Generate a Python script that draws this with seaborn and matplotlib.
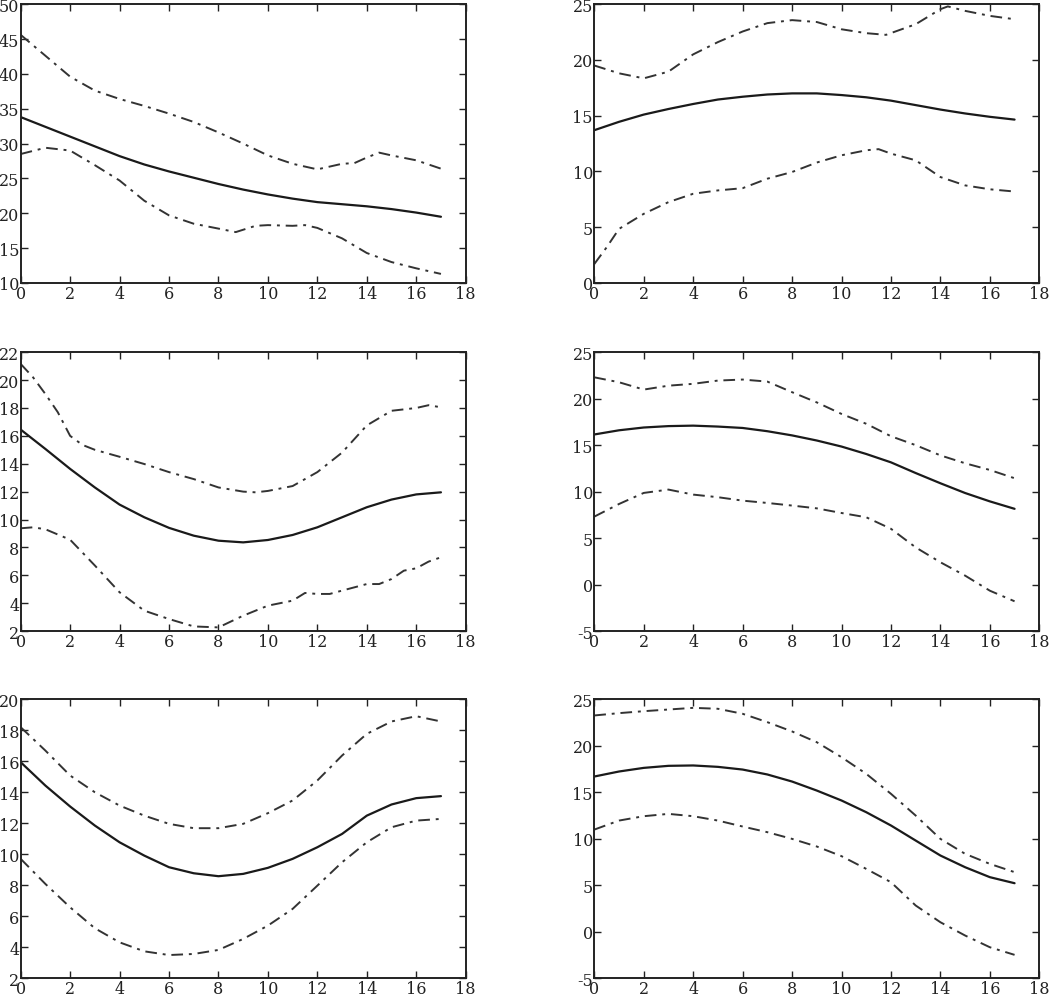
import numpy as np
import pandas as pd
import matplotlib
matplotlib.use("Agg")
import matplotlib.pyplot as plt
import seaborn as sns

# ---------------- data ----------------
X = list(range(18))

# panel 1 (top-left)
p1_mean = [33.8, 32.4, 31.0, 29.6, 28.2, 27.0, 26.0, 25.1, 24.2, 23.4, 22.7, 22.1, 21.6, 21.3, 21.0, 20.6, 20.1, 19.5]
p1_up_x = [0, 1, 2, 3, 4, 5, 6, 7, 8, 9, 10, 11, 12, 13, 13.5, 14, 14.5, 15, 16, 17]
p1_up = [45.6, 42.6, 39.6, 37.6, 36.4, 35.4, 34.3, 33.1, 31.6, 30.0, 28.3, 27.1, 26.3, 27.1, 27.2, 28.0, 28.7, 28.3, 27.6, 26.4]
p1_lo_x = [0, 1, 2, 3, 4, 5, 6, 7, 8, 8.7, 9.5, 10, 11, 11.5, 12, 13, 14, 15, 16, 17]
p1_lo = [28.5, 29.4, 29.0, 26.9, 24.7, 21.8, 19.7, 18.5, 17.8, 17.3, 18.2, 18.3, 18.2, 18.3, 17.9, 16.4, 14.3, 13.0, 12.1, 11.3]

# panel 2 (top-right)
p2_mean = [13.7, 14.45, 15.1, 15.6, 16.05, 16.45, 16.7, 16.9, 17.0, 17.0, 16.85, 16.65, 16.35, 15.95, 15.55, 15.2, 14.9, 14.65]
p2_up_x = [0, 1, 2, 3, 4, 5, 6, 7, 8, 9, 10, 11, 11.8, 13, 14, 14.3, 15, 16, 17]
p2_up = [19.5, 18.8, 18.35, 18.95, 20.5, 21.6, 22.55, 23.3, 23.57, 23.4, 22.75, 22.4, 22.25, 23.2, 24.55, 24.8, 24.4, 23.95, 23.65]
p2_lo_x = [0, 0.5, 1, 2, 3, 4, 5, 6, 7, 8, 9, 10, 11, 11.5, 12, 13, 14, 15, 16, 17]
p2_lo = [1.7, 3.2, 4.85, 6.2, 7.25, 8.0, 8.3, 8.5, 9.35, 9.95, 10.8, 11.45, 11.9, 12.0, 11.6, 11.0, 9.5, 8.75, 8.4, 8.2]

# panel 3 (middle-left)
p3_mean = [16.45, 15.06, 13.63, 12.3, 11.07, 10.16, 9.4, 8.84, 8.48, 8.36, 8.53, 8.89, 9.44, 10.16, 10.88, 11.43, 11.8, 11.95]
p3_up_x = [0, 0.5, 1, 1.5, 2, 2.5, 3, 4, 5, 6, 7, 8, 9, 9.5, 10, 11, 12, 13, 14, 15, 15.5, 16, 16.5, 17]
p3_up = [21.16, 20.2, 19.0, 17.7, 16.0, 15.35, 15.0, 14.5, 13.98, 13.4, 12.9, 12.3, 12.0, 11.95, 12.05, 12.4, 13.4, 14.8, 16.75, 17.8, 17.9, 18.0, 18.2, 18.05]
p3_lo_x = [0, 0.5, 1, 2, 3, 4, 5, 6, 7, 8, 9, 10, 11, 11.5, 12, 12.5, 13, 14, 14.5, 15, 15.5, 16, 16.5, 17]
p3_lo = [9.37, 9.44, 9.3, 8.55, 6.7, 4.78, 3.46, 2.86, 2.33, 2.26, 3.1, 3.82, 4.18, 4.73, 4.66, 4.66, 4.9, 5.37, 5.37, 5.73, 6.33, 6.5, 6.98, 7.29]

# panel 4 (middle-right)
p4_mean = [16.15, 16.6, 16.9, 17.05, 17.1, 17.0, 16.85, 16.5, 16.05, 15.5, 14.85, 14.05, 13.15, 12.0, 10.9, 9.85, 8.95, 8.15]
p4_up = [22.3, 21.77, 20.98, 21.4, 21.6, 21.95, 22.06, 21.84, 20.7, 19.6, 18.36, 17.3, 15.96, 15.0, 13.9, 13.05, 12.33, 11.44]
p4_lo = [7.31, 8.67, 9.86, 10.22, 9.68, 9.4, 9.03, 8.78, 8.5, 8.2, 7.7, 7.24, 6.0, 4.0, 2.4, 0.96, -0.66, -1.8]

# panel 5 (bottom-left)
p5_mean = [15.95, 14.44, 13.09, 11.86, 10.78, 9.92, 9.17, 8.78, 8.59, 8.74, 9.13, 9.71, 10.46, 11.32, 12.5, 13.22, 13.63, 13.76]
p5_up = [18.21, 16.7, 15.09, 14.01, 13.15, 12.5, 11.97, 11.69, 11.69, 11.97, 12.66, 13.48, 14.77, 16.38, 17.78, 18.58, 18.92, 18.58]
p5_lo = [9.71, 8.09, 6.58, 5.23, 4.32, 3.74, 3.5, 3.57, 3.83, 4.54, 5.4, 6.48, 7.98, 9.49, 10.78, 11.75, 12.18, 12.29]

# panel 6 (bottom-right)
p6_mean = [16.71, 17.25, 17.64, 17.86, 17.9, 17.75, 17.46, 16.93, 16.17, 15.2, 14.13, 12.87, 11.44, 9.82, 8.21, 6.95, 5.88, 5.23]
p6_up = [23.28, 23.53, 23.74, 23.92, 24.1, 24.0, 23.46, 22.56, 21.56, 20.4, 18.79, 17.0, 14.85, 12.51, 10.0, 8.39, 7.31, 6.42]
p6_lo = [11.0, 11.97, 12.44, 12.69, 12.44, 11.97, 11.33, 10.72, 10.0, 9.18, 8.14, 6.77, 5.34, 2.83, 1.03, -0.4, -1.66, -2.48]

y_limits = [(10, 50), (0, 25), (2, 22), (-5, 25), (2, 20), (-5, 25)]
y_steps = [5, 5, 2, 5, 2, 5]
x_ticks = list(range(0, 19, 2))

panels = [
    (X, p1_mean, p1_up_x, p1_up, p1_lo_x, p1_lo),
    (X, p2_mean, p2_up_x, p2_up, p2_lo_x, p2_lo),
    (X, p3_mean, p3_up_x, p3_up, p3_lo_x, p3_lo),
    (X, p4_mean, X, p4_up, X, p4_lo),
    (X, p5_mean, X, p5_up, X, p5_lo),
    (X, p6_mean, X, p6_up, X, p6_lo),
]

# ---------------- style ----------------
sns.set_style("ticks")
plt.rcParams['font.family'] = ['DejaVu Serif', 'DejaVu Sans']
plt.rcParams.update({
    'xtick.direction': 'in', 'ytick.direction': 'in',
    'xtick.top': True, 'ytick.right': True,
    'xtick.major.size': 5, 'ytick.major.size': 5,
    'xtick.major.width': 1.0, 'ytick.major.width': 1.0,
    'xtick.major.pad': 1.5, 'ytick.major.pad': 1.0,
    'axes.linewidth': 1.4, 'axes.edgecolor': '#222222',
    'xtick.color': '#222222', 'ytick.color': '#222222',
    'xtick.labelsize': 11.5, 'ytick.labelsize': 11.5,
})

fig = plt.figure(figsize=(10.5, 9.95), dpi=100)
lefts = [0.0197, 0.566]
bottoms = [0.7146, 0.3648, 0.0158]
w, h = 0.4238, 0.2802

for i, (xm, ym, xu, yu, xl, yl) in enumerate(panels):
    r, c = divmod(i, 2)
    ax = fig.add_axes([lefts[c], bottoms[r], w, h])
    sns.lineplot(x=xm, y=ym, ax=ax, color='#1a1a1a', linewidth=1.6, sort=False, estimator=None)
    for xx, yy in ((xu, yu), (xl, yl)):
        sns.lineplot(x=xx, y=yy, ax=ax, color='#333333', linewidth=1.4, sort=False,
                     estimator=None, dashes=False)
        ax.lines[-1].set_dashes([6, 3, 1.5, 3])
    lo, hi = y_limits[i]
    ax.set_xlim(0, 18)
    ax.set_ylim(lo, hi)
    ax.set_xticks(x_ticks)
    ax.set_yticks(np.arange(lo, hi + 0.1, y_steps[i]))
    ax.set_yticklabels([str(int(v)) for v in np.arange(lo, hi + 0.1, y_steps[i])])
    ax.set_xlabel('')
    ax.set_ylabel('')
    for s in ax.spines.values():
        s.set_visible(True)

fig.savefig('out.png', dpi=100)
